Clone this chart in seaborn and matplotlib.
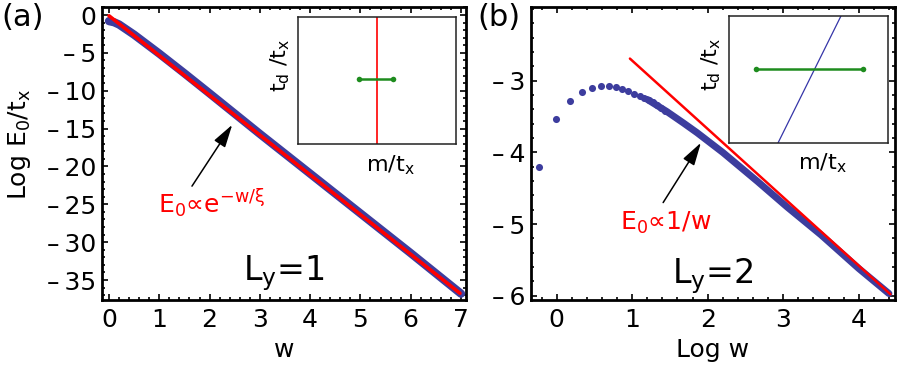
import matplotlib
matplotlib.use("Agg")
import matplotlib.pyplot as plt
import seaborn as sns
import pandas as pd
from matplotlib.ticker import MultipleLocator

# ---------------- data ----------------
# panel (a): L_y = 1
w_a = [0.0, 0.1, 0.2, 0.3, 0.5, 0.75, 1.0, 1.5, 2.0, 3.0, 4.0, 5.0, 6.0, 7.0]
logE_a = [-0.8, -0.95, -1.25, -1.7, -2.6, -3.85, -5.1, -7.7, -10.35,
          -15.7, -20.95, -26.2, -31.45, -36.8]
fit_a_w = [0.0, 6.98]
fit_a_logE = [-0.1, -36.75]

# panel (b): L_y = 2
logw_b_dots = [-0.235, -0.01, 0.175, 0.335, 0.465, 0.585, 0.69, 0.785, 0.87,
               0.95, 1.03, 1.10, 1.16, 1.22, 1.28, 1.335, 1.385, 1.435]
logE_b_dots = [-4.21, -3.53, -3.28, -3.16, -3.10, -3.07, -3.07, -3.08, -3.11,
               -3.14, -3.18, -3.21, -3.24, -3.27, -3.30, -3.34, -3.38, -3.42]
logw_b_band = [1.2, 1.46, 1.68, 1.86, 2.2, 2.66, 3.05, 3.5, 4.0, 4.40]
logE_b_band = [-3.26, -3.43, -3.59, -3.725, -4.0, -4.405, -4.76, -5.15, -5.62, -5.97]
fit_b_logw = [0.97, 4.42]
fit_b_logE = [-2.69, -5.98]

# insets (schematic)
inset_a_red_m = [0.5, 0.5]
inset_a_red_t = [0.0, 1.0]
inset_a_green_m = [0.386, 0.60]
inset_a_green_t = [0.51, 0.51]
inset_b_blue_m = [0.308, 0.704]
inset_b_blue_t = [0.0, 1.0]
inset_b_green_m = [0.17, 0.843]
inset_b_green_t = [0.583, 0.583]

# ticks
xticks_a = [0, 1, 2, 3, 4, 5, 6, 7]
yticks_a = [0, -5, -10, -15, -20, -25, -30, -35]
xticks_b = [0, 1, 2, 3, 4]
yticks_b = [-3, -4, -5, -6]

# ---------------- style ----------------
sns.set_style("ticks")
plt.rcParams["font.family"] = ["DejaVu Sans"]
plt.rcParams["mathtext.default"] = "regular"
for key in ("text.color", "axes.labelcolor", "xtick.color", "ytick.color",
            "xtick.labelcolor", "ytick.labelcolor"):
    plt.rcParams[key] = "black"

BLUE = "#3d3d9e"
RED = "#ff0000"
GREEN = "#1e8c1e"

fig = plt.figure(figsize=(9.0, 3.73), dpi=100)
axa = fig.add_axes([0.1133, 0.1957, 0.4045, 0.7855])
axb = fig.add_axes([0.5900, 0.1957, 0.4044, 0.7855])


def fmt(v):
    return str(v) if v >= 0 else "\u2013\u2009" + str(-v)


def frame(ax, xmin, ymin):
    for s in ax.spines.values():
        s.set_visible(True)
        s.set_linewidth(2.0)
        s.set_color("black")
    ax.xaxis.set_minor_locator(MultipleLocator(xmin))
    ax.yaxis.set_minor_locator(MultipleLocator(ymin))
    ax.tick_params(which="both", direction="in", top=True, right=True,
                   width=1.2, color="black", labelcolor="black")
    ax.tick_params(which="major", length=4.5)
    ax.tick_params(which="minor", length=2.5)
    ax.tick_params(axis="x", labelsize=18, pad=6)
    ax.tick_params(axis="y", labelsize=18, pad=4)


ARROW = dict(arrowstyle="-|>,head_length=1.4,head_width=0.4",
             color="black", lw=1.1, shrinkA=0, shrinkB=0)

# ---- panel (a)
df_a = pd.DataFrame({"w": w_a, "logE": logE_a})
sns.lineplot(data=df_a, x="w", y="logE", ax=axa, color=BLUE, linewidth=6,
             sort=False, estimator=None, solid_capstyle="round")
sns.lineplot(x=fit_a_w, y=fit_a_logE, ax=axa, color=RED, linewidth=2.6,
             sort=False, estimator=None)
axa.set_xlim(-0.14, 7.10)
axa.set_ylim(-37.64, 1.06)
axa.set_xticks(xticks_a)
axa.set_xticklabels([fmt(v) for v in xticks_a])
axa.set_yticks(yticks_a)
axa.set_yticklabels([fmt(v) for v in yticks_a])
frame(axa, 0.2, 1)
axa.set_xlabel("w", fontsize=18, labelpad=4)
axa.set_ylabel(r"Log E$_0$/t$_x$", fontsize=18)
axa.yaxis.set_label_coords(-0.19, 0.53)
axa.annotate("", xy=(2.45, -14.5), xytext=(1.65, -22.6), arrowprops=ARROW)
axa.text(0.97, -26.15, r"E$_0$∝e$^{-w/\xi}$", color=RED, fontsize=18,
         ha="left", va="baseline")
axa.text(3.48, -35.0, r"L$_y$=1", fontsize=24, ha="center", va="baseline")

# ---- panel (b)
df_bd = pd.DataFrame({"logw": logw_b_dots, "logE": logE_b_dots})
df_bb = pd.DataFrame({"logw": logw_b_band, "logE": logE_b_band})
sns.lineplot(data=df_bb, x="logw", y="logE", ax=axb, color=BLUE, linewidth=5,
             sort=False, estimator=None, solid_capstyle="round")
sns.scatterplot(data=df_bd, x="logw", y="logE", ax=axb, color=BLUE, s=26,
                linewidth=0)
sns.lineplot(x=fit_b_logw, y=fit_b_logE, ax=axb, color=RED, linewidth=1.8,
             sort=False, estimator=None)
axb.set_xlim(-0.34, 4.48)
axb.set_ylim(-6.06, -1.97)
axb.set_xticks(xticks_b)
axb.set_xticklabels([fmt(v) for v in xticks_b])
axb.set_yticks(yticks_b)
axb.set_yticklabels([fmt(v) for v in yticks_b])
frame(axb, 0.2, 0.2)
axb.set_xlabel("Log w", fontsize=18, labelpad=4)
axb.set_ylabel("")
axb.annotate("", xy=(1.91, -3.865), xytext=(1.41, -4.70), arrowprops=ARROW)
axb.text(0.84, -5.08, r"E$_0$∝1/w", color=RED, fontsize=18,
         ha="left", va="baseline")
axb.text(2.07, -5.82, r"L$_y$=2", fontsize=24, ha="center", va="baseline")

# ---- insets
ina = fig.add_axes([0.3311, 0.6139, 0.1756, 0.3405])
inb = fig.add_axes([0.8100, 0.6166, 0.1767, 0.3405])
sns.lineplot(x=inset_a_red_m, y=inset_a_red_t, ax=ina, color=RED, linewidth=1.2,
             sort=False, estimator=None)
sns.lineplot(x=inset_a_green_m, y=inset_a_green_t, ax=ina, color=GREEN,
             linewidth=1.8, marker="o", markersize=4, markeredgewidth=0,
             sort=False, estimator=None)
sns.lineplot(x=inset_b_blue_m, y=inset_b_blue_t, ax=inb, color="#3535a8",
             linewidth=0.9, sort=False, estimator=None)
sns.lineplot(x=inset_b_green_m, y=inset_b_green_t, ax=inb, color=GREEN,
             linewidth=1.8, marker="o", markersize=4, markeredgewidth=0,
             sort=False, estimator=None)
for ax in (ina, inb):
    ax.set_xlim(0, 1)
    ax.set_ylim(0, 1)
    ax.set_xticks([])
    ax.set_yticks([])
    ax.set_facecolor("white")
    for s in ax.spines.values():
        s.set_visible(True)
        s.set_linewidth(1.1)
        s.set_color("#222222")
    ax.set_xlabel(r"m/t$_x$", fontsize=16)
    ax.set_ylabel(r"t$_d$ /t$_x$", fontsize=16)
    ax.xaxis.set_label_coords(0.585, -0.07)
    ax.yaxis.set_label_coords(-0.035, 0.62)

fig.text(0.002, 0.952, "(a)", fontsize=22, ha="left", va="center")
fig.text(0.530, 0.952, "(b)", fontsize=22, ha="left", va="center")

fig.savefig("out.png", dpi=100)
